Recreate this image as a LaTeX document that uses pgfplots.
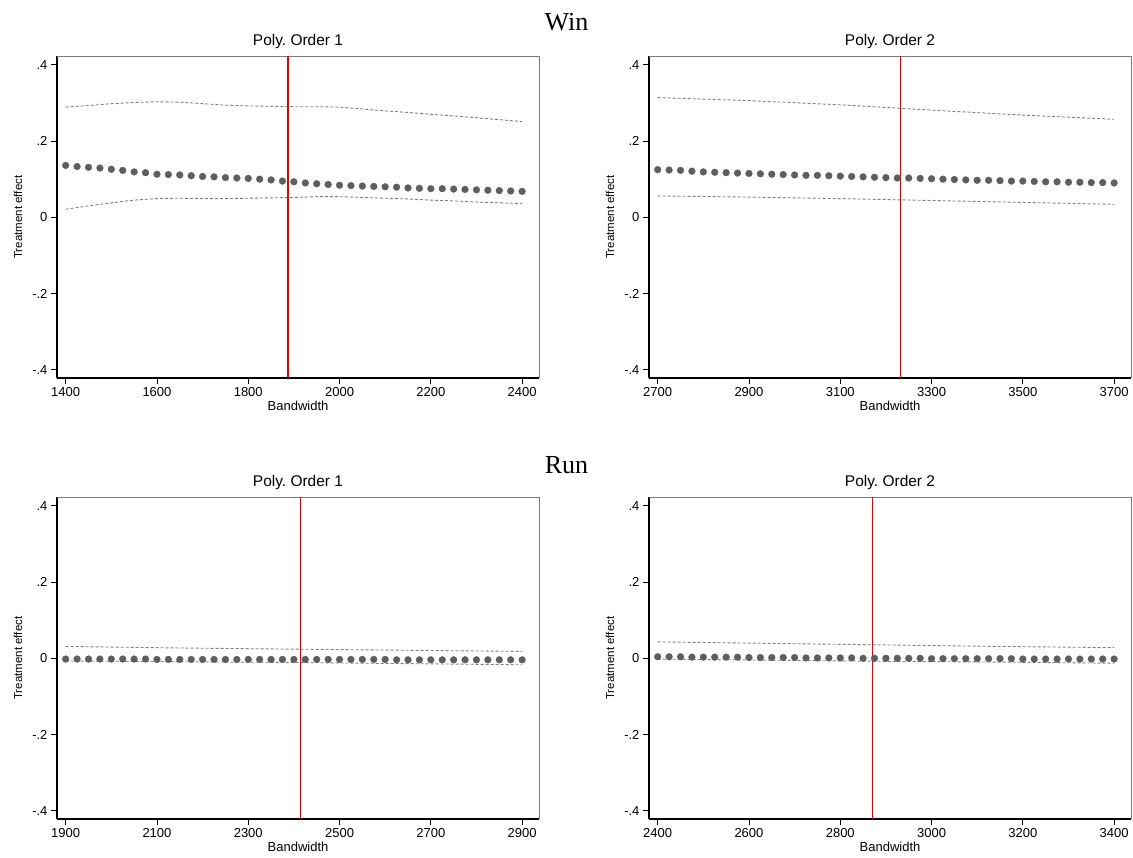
\documentclass[border=0pt]{standalone}
\usepackage{fontspec}
\setmainfont{Liberation Sans}
\newfontfamily\timesf{Liberation Serif}
\usepackage{pgfplots}
\pgfplotsset{compat=1.18}
\frenchspacing
\definecolor{dotc}{RGB}{94,94,94}
\definecolor{cic}{RGB}{128,128,128}
\definecolor{boxc}{RGB}{122,122,122}
\definecolor{redl}{RGB}{235,0,0}
\pgfplotsset{
  panel/.style={
    scale only axis, width=482pt, height=321.6pt,
    ymin=-0.4215, ymax=0.422,
    axis lines*=left,
    axis line style={black, line width=1.1pt},
    tick align=outside, major tick length=6pt,
    tick style={black, line width=0.8pt},
    ytick={-0.4,-0.2,0,0.2,0.4},
    yticklabels={-.4,-.2,0,.2,.4},
    ticklabel style={font=\fontsize{13}{14}\selectfont},
    every axis y label/.style={at={(rel axis cs:0,0.5)}, xshift=-39pt, rotate=90, anchor=center, font=\fontsize{11.5}{12}\selectfont},
    every axis x label/.style={at={(rel axis cs:0.5,0)}, yshift=-28pt, anchor=center, font=\fontsize{13}{14}\selectfont},
    ylabel={Treatment effect}, xlabel={Bandwidth},
    title style={at={(rel axis cs:0.5,1)}, anchor=base, yshift=5pt, font=\fontsize{15.5}{17}\selectfont},
    clip=false,
  },
  est/.style={only marks, mark=*, mark size=3.4pt, color=dotc, mark options={solid, draw=dotc, fill=dotc, line width=0.3pt}},
  ci/.style={draw=cic, line width=0.9pt, dash pattern=on 3pt off 2pt, no marks},
  rl/.style={fill=redl, draw=none, no marks},
}
\begin{document}
\begin{tikzpicture}
\useasboundingbox (0,0) rectangle (1133pt,858pt);
\fill[white] (0,0) rectangle (1133pt,858pt);
\node[font=\timesf\fontsize{26}{28}\selectfont, anchor=base] at (566.5pt,827pt) {Win};
\node[font=\timesf\fontsize{26}{28}\selectfont, anchor=base] at (566.5pt,384pt) {Run};

% ---------- Top left ----------
\begin{axis}[panel, at={(57pt,480pt)}, anchor=south west,
  xmin=1381, xmax=2437,
  xtick={1400,1600,1800,2000,2200,2400},
  xticklabels={1400,1600,1800,2000,2200,2400},
  title={Poly. Order 1}]
\draw[boxc, line width=0.7pt] (rel axis cs:0,1) -- (rel axis cs:1,1) -- (rel axis cs:1,0);
\addplot[ci] coordinates {(1400,.289) (1450,.293) (1500,.298) (1550,.301) (1600,.303) (1650,.302) (1700,.298) (1750,.294) (1800,.292) (1850,.291) (1900,.290) (1950,.290) (2000,.289) (2050,.284) (2100,.279) (2150,.275) (2200,.270) (2250,.266) (2300,.261) (2350,.256) (2400,.251)};
\addplot[ci] coordinates {(1400,.021) (1450,.030) (1500,.038) (1550,.045) (1600,.049) (1650,.050) (1700,.049) (1750,.049) (1800,.050) (1850,.051) (1900,.052) (1950,.054) (2000,.054) (2050,.052) (2100,.050) (2150,.048) (2200,.045) (2250,.043) (2300,.040) (2350,.038) (2400,.036)};
\addplot[est] coordinates {(1400,.136) (1425,.133) (1450,.131) (1475,.129) (1500,.126) (1525,.123) (1550,.119) (1575,.117) (1600,.113) (1625,.112) (1650,.111) (1675,.109) (1700,.107) (1725,.106) (1750,.104) (1775,.103) (1800,.102) (1825,.100) (1850,.098) (1875,.095) (1900,.093) (1925,.090) (1950,.088) (1975,.086) (2000,.084) (2025,.083) (2050,.082) (2075,.081) (2100,.080) (2125,.079) (2150,.077) (2175,.076) (2200,.075) (2225,.075) (2250,.074) (2275,.073) (2300,.072) (2325,.071) (2350,.070) (2375,.069) (2400,.068)};
\addplot[rl] coordinates {(1885.8,-0.4215) (1888.2,-0.4215) (1888.2,0.422) (1885.8,0.422)} -- cycle;
\end{axis}

% ---------- Top right ----------
\begin{axis}[panel, at={(649pt,480pt)}, anchor=south west,
  xmin=2681, xmax=3737,
  xtick={2700,2900,3100,3300,3500,3700},
  xticklabels={2700,2900,3100,3300,3500,3700},
  title={Poly. Order 2}]
\draw[boxc, line width=0.7pt] (rel axis cs:0,1) -- (rel axis cs:1,1) -- (rel axis cs:1,0);
\addplot[ci] coordinates {(2700,.314) (2900,.306) (3100,.295) (3300,.281) (3500,.268) (3700,.257)};
\addplot[ci] coordinates {(2700,.056) (2900,.053) (3100,.049) (3300,.044) (3500,.039) (3700,.034)};
\addplot[est] coordinates {(2700,.125) (2725,.124) (2750,.123) (2775,.121) (2800,.119) (2825,.118) (2850,.117) (2875,.116) (2900,.115) (2925,.114) (2950,.113) (2975,.112) (3000,.111) (3025,.110) (3050,.110) (3075,.109) (3100,.108) (3125,.107) (3150,.106) (3175,.105) (3200,.104) (3225,.103) (3250,.103) (3275,.102) (3300,.101) (3325,.100) (3350,.099) (3375,.098) (3400,.097) (3425,.097) (3450,.096) (3475,.095) (3500,.095) (3525,.094) (3550,.093) (3575,.093) (3600,.092) (3625,.092) (3650,.091) (3675,.091) (3700,.090)};
\addplot[rl] coordinates {(3229.8,-0.4215) (3232.2,-0.4215) (3232.2,0.422) (3229.8,0.422)} -- cycle;
\end{axis}

% ---------- Bottom left ----------
\begin{axis}[panel, at={(57pt,39pt)}, anchor=south west,
  xmin=1881, xmax=2937,
  xtick={1900,2100,2300,2500,2700,2900},
  xticklabels={1900,2100,2300,2500,2700,2900},
  title={Poly. Order 1}]
\draw[boxc, line width=0.7pt] (rel axis cs:0,1) -- (rel axis cs:1,1) -- (rel axis cs:1,0);
\addplot[ci] coordinates {(1900,.031) (2150,.027) (2400,.024) (2650,.021) (2900,.018)};
\addplot[ci] coordinates {(1900,-.007) (2150,-.009) (2400,-.011) (2650,-.014) (2900,-.017)};
\addplot[est] coordinates {(1900,-.002) (1925,-.002) (1950,-.002) (1975,-.002) (2000,-.002) (2025,-.002) (2050,-.002) (2075,-.002) (2100,-.003) (2125,-.003) (2150,-.003) (2175,-.003) (2200,-.003) (2225,-.003) (2250,-.003) (2275,-.003) (2300,-.003) (2325,-.003) (2350,-.003) (2375,-.003) (2400,-.003) (2425,-.003) (2450,-.003) (2475,-.003) (2500,-.003) (2525,-.003) (2550,-.003) (2575,-.003) (2600,-.003) (2625,-.004) (2650,-.004) (2675,-.004) (2700,-.004) (2725,-.004) (2750,-.004) (2775,-.004) (2800,-.004) (2825,-.004) (2850,-.004) (2875,-.004) (2900,-.004)};
\addplot[rl] coordinates {(2412.8,-0.4215) (2415.2,-0.4215) (2415.2,0.422) (2412.8,0.422)} -- cycle;
\end{axis}

% ---------- Bottom right ----------
\begin{axis}[panel, at={(649pt,39pt)}, anchor=south west,
  xmin=2381, xmax=3437,
  xtick={2400,2600,2800,3000,3200,3400},
  xticklabels={2400,2600,2800,3000,3200,3400},
  title={Poly. Order 2}]
\draw[boxc, line width=0.7pt] (rel axis cs:0,1) -- (rel axis cs:1,1) -- (rel axis cs:1,0);
\addplot[ci] coordinates {(2400,.043) (2650,.039) (2900,.035) (3150,.031) (3400,.028)};
\addplot[ci] coordinates {(2400,-.002) (2650,-.005) (2900,-.008) (3150,-.010) (3400,-.013)};
\addplot[est] coordinates {(2400,.004) (2425,.004) (2450,.004) (2475,.003) (2500,.003) (2525,.003) (2550,.003) (2575,.003) (2600,.002) (2625,.002) (2650,.002) (2675,.002) (2700,.002) (2725,.001) (2750,.001) (2775,.001) (2800,.001) (2825,.001) (2850,.000) (2875,.000) (2900,.000) (2925,.000) (2950,.000) (2975,.000) (3000,-.001) (3025,-.001) (3050,-.001) (3075,-.001) (3100,-.001) (3125,-.001) (3150,-.001) (3175,-.001) (3200,-.002) (3225,-.002) (3250,-.002) (3275,-.002) (3300,-.002) (3325,-.002) (3350,-.002) (3375,-.002) (3400,-.002)};
\addplot[rl] coordinates {(2868.8,-0.4215) (2871.2,-0.4215) (2871.2,0.422) (2868.8,0.422)} -- cycle;
\end{axis}
\end{tikzpicture}
\end{document}
